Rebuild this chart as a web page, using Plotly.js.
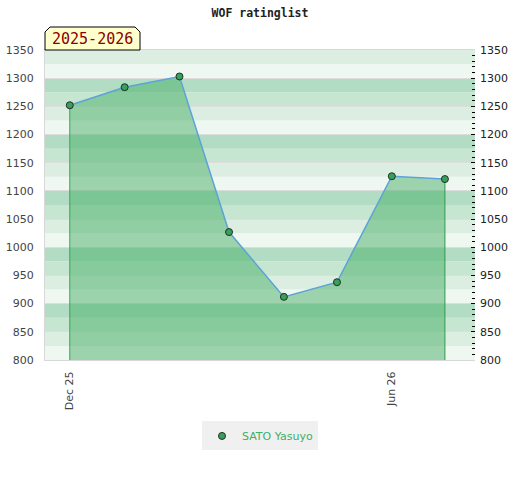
<!DOCTYPE html>
<html>
<head>
<meta charset="utf-8">
<script src="https://cdn.plot.ly/plotly-3.0.1.min.js"></script>
<style>html,body{margin:0;padding:0;background:#fff;}#chart{width:520px;height:480px;}</style>
</head>
<body>
<div id="chart"></div>
<script>
// ---- data ----
var dates = ['2025-12-01','2026-01-01','2026-02-01','2026-03-01','2026-04-01','2026-05-01','2026-06-01','2026-07-01'];
var ratings = [1252, 1284, 1303, 1027, 912, 938, 1126, 1121];
var playerName = 'SATO Yasuyo';
var chartTitle = 'WOF ratinglist';
var seasonLabel = '2025-2026';
var yMin = 800, yMax = 1350;

// ---- background bands (style) ----
var bandColors = ['#eff7f1', '#dcede2', '#c7e6d2', '#b2dcc3'];
var shapes = [];
for (var v = yMin; v < yMax; v += 25) {
  var idx = ((v - yMin) / 25) % 4;
  shapes.push({type:'rect', xref:'paper', yref:'y', x0:0, x1:1, y0:v, y1:v+25,
    fillcolor: bandColors[idx], line:{width:0}, layer:'below'});
}
// season badge with cut top corners (paper coords)
var bx0 = 0, bx1 = 95/430, by0 = 1, by1 = 1 + 23/310, cx = 5/430, cy = 5/310;
shapes.push({type:'path', xref:'paper', yref:'paper',
  path: 'M '+bx0+','+by0+' L '+bx0+','+(by1-cy)+' L '+(bx0+cx)+','+by1+' L '+(bx1-cx)+','+by1+' L '+bx1+','+(by1-cy)+' L '+bx1+','+by0+' Z',
  fillcolor:'#ffffcc', line:{color:'#000', width:1}, layer:'above'});

var traces = [
  { // filled area
    x: dates, y: ratings, type:'scatter', mode:'none', fill:'tozeroy',
    fillcolor:'rgba(64,172,97,0.48)', showlegend:false, hoverinfo:'skip'
  },
  { // left edge
    x: [dates[0], dates[0]], y: [ratings[0], yMin], type:'scatter', mode:'lines',
    line:{color:'#33aa55', width:1}, showlegend:false, hoverinfo:'skip'
  },
  { // right edge
    x: [dates[dates.length-1], dates[dates.length-1]], y: [ratings[ratings.length-1], yMin], type:'scatter', mode:'lines',
    line:{color:'#2f9a50', width:1}, showlegend:false, hoverinfo:'skip'
  },
  { // main line
    x: dates, y: ratings, type:'scatter', mode:'lines', showlegend:false,
    line:{color:'#5ba3d9', width:1.5}, hoverinfo:'skip'
  },
  { // markers (legend entry)
    x: dates, y: ratings, type:'scatter', mode:'markers', name: playerName,
    marker:{size:7, color:'#3a9e5c', line:{color:'#1c3322', width:1}}
  },
  { // invisible trace to show right axis
    x: dates, y: ratings, yaxis:'y2', type:'scatter', mode:'lines',
    line:{width:0, color:'rgba(0,0,0,0)'}, showlegend:false, hoverinfo:'skip'
  }
];

var tickFont = {family:'DejaVu Sans, sans-serif', size:11, color:'#444'};
var tickFontR = {family:'DejaVu Sans, sans-serif', size:11, color:'#222'};
var layout = {
  width:520, height:480,
  margin:{l:45, r:45, t:50, b:120, pad:0},
  paper_bgcolor:'#fff', plot_bgcolor:'rgba(0,0,0,0)',
  title:{text: chartTitle, x:0.5, xanchor:'center', y:1-13/480, yanchor:'middle',
    font:{family:'DejaVu Sans Mono, monospace', size:11.5, color:'#222', weight:'bold'}},
  showlegend:true,
  legend:{orientation:'h', x:0.5, xanchor:'center', y:-0.245, yanchor:'middle', itemwidth:30,
    bgcolor:'#f0f0f0', font:{family:'DejaVu Sans, sans-serif', size:11, color:'#3cb067'}},
  xaxis:{type:'date', range:['2025-11-17','2026-07-18'], tick0:'2025-12-01', dtick:'M6',
    tickformat:'%b %y', tickangle:-90, tickfont:tickFont, showgrid:false, zeroline:false,
    showline:true, linecolor:'#d8d8d8', linewidth:1, mirror:true, ticks:'', ticklabelstandoff:6, fixedrange:true},
  yaxis:{range:[yMin, yMax], dtick:50, tick0:0, tickfont:tickFont, ticks:'',
    showgrid:true, gridcolor:'#dddddd', gridwidth:1, zeroline:false,
    showline:true, linecolor:'#d8d8d8', linewidth:1, ticklabelstandoff:8},
  yaxis2:{range:[yMin, yMax], overlaying:'y', side:'right', dtick:50, tick0:0,
    tickfont:tickFontR, ticks:'inside', ticklen:4, tickcolor:'#000', tickwidth:1,
    minor:{dtick:10, ticks:'inside', ticklen:3, tickcolor:'#000', tickwidth:1, showgrid:false},
    showgrid:false, zeroline:false, showline:false, ticklabelstandoff:4},
  shapes: shapes,
  annotations:[{xref:'paper', yref:'paper', x:(bx0+bx1)/2, y:(by0+by1)/2 - 0.002, xanchor:'center', yanchor:'middle',
    text: seasonLabel, showarrow:false,
    font:{family:'DejaVu Sans Mono, monospace', size:15, color:'#8b0000'}}]
};

Plotly.newPlot('chart', traces, layout, {displayModeBar:false, staticPlot:true});
</script>
</body>
</html>
